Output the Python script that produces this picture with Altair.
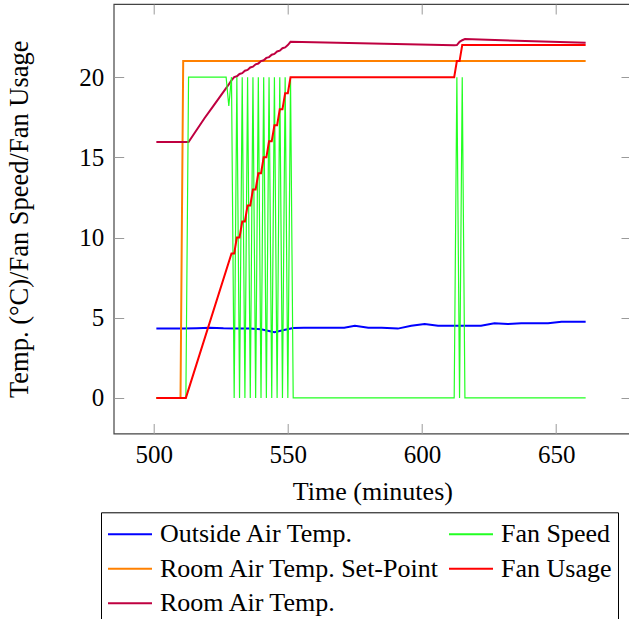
import altair as alt
import pandas as pd

FONT = "Liberation Serif"

# ---- data ----
# Outside Air Temp.
out_t = [501, 506, 511, 516, 521, 526, 531, 536, 540, 545, 549, 552, 556, 561, 566, 571,
         575, 580, 585, 591, 596, 601, 606, 611, 616, 622, 627, 632, 637, 642, 647, 652, 656, 661]
out_v = [4.32, 4.32, 4.33, 4.35, 4.38, 4.34, 4.32, 4.33, 4.28, 4.09, 4.25, 4.36, 4.37, 4.37, 4.37, 4.38,
         4.50, 4.38, 4.38, 4.32, 4.50, 4.61, 4.50, 4.50, 4.50, 4.50, 4.65, 4.60, 4.66, 4.66, 4.66, 4.75, 4.75, 4.75]

# Room Air Temp. Set-Point
sp_t = [501, 510, 511, 661]
sp_v = [0, 0, 21, 21]

# Room Air Temp.
rt_t = [501, 513, 516, 519, 522, 525, 528, 529,
        530, 531, 532, 533, 534, 535, 536, 537, 538, 539, 540, 541, 542, 543, 544, 545,
        546, 547, 548, 549, 550, 551, 612, 613, 614, 615, 616, 661]
rt_v = [15.95, 15.95, 16.7, 17.45, 18.15, 18.85, 19.55, 19.8,
        20.00, 20.05, 20.20, 20.25, 20.40, 20.45, 20.60, 20.65, 20.80, 20.85, 21.00, 21.05, 21.20, 21.25,
        21.40, 21.45, 21.60, 21.65, 21.80, 21.85, 22.00, 22.20, 21.99, 22.00, 22.20, 22.30, 22.37, 22.14]

# Fan Speed
fs_t = [501, 512, 513, 527, 528, 529,
        530, 531, 532, 533, 534, 535, 536, 537, 538, 539, 540, 541, 542, 543, 544, 545,
        546, 547, 548, 549, 550, 551, 552, 612, 613, 614, 615, 616, 661]
fs_v = [0, 0, 20, 20, 18.2, 20,
        0, 20, 0, 20, 0, 20, 0, 20, 0, 20, 0, 20, 0, 20, 0, 20,
        0, 20, 0, 20, 0, 20, 0, 0, 20, 0, 20, 0, 0]

# Fan Usage
fu_t = [501, 512, 529, 530, 531, 532, 533, 534, 535, 536, 537, 538, 539, 540, 541, 542,
        543, 544, 545, 546, 547, 548, 549, 550, 551, 612, 613, 614, 615, 661]
fu_v = [0, 0, 9, 9, 10, 10, 11, 11, 12, 12, 13, 13, 14, 14, 15, 15,
        16, 16, 17, 17, 18, 18, 19, 19, 20, 20, 21, 21, 22, 22]

x_ticks = [500, 550, 600, 650]
y_ticks = [0, 5, 10, 15, 20]

legend_order = ["Outside Air Temp.", "Room Air Temp. Set-Point", "Room Air Temp.", "Fan Speed", "Fan Usage"]
legend_colors = ["#0000ff", "#ff8000", "#bf0040", "#22ff22", "#ff0000"]

series = [
    ("Outside Air Temp.", out_t, out_v, 2.0),
    ("Room Air Temp. Set-Point", sp_t, sp_v, 2.0),
    ("Room Air Temp.", rt_t, rt_v, 2.0),
    ("Fan Speed", fs_t, fs_v, 1.2),
    ("Fan Usage", fu_t, fu_v, 2.0),
]

xscale = alt.Scale(domain=[485.1, 677.9], nice=False, zero=False)
yscale = alt.Scale(domain=[-2.22, 24.56], nice=False, zero=False)
cscale = alt.Scale(domain=legend_order, range=legend_colors)

legend = alt.Legend(
    title=None, orient="none", legendX=-12.7, legendY=508.3, columns=2, gridAlign="all",
    symbolType="stroke", symbolSize=1936, symbolStrokeWidth=2, clipHeight=32,
    labelFont=FONT, labelFontSize=26, labelColor="black", labelLimit=0,
    labelOffset=7, columnPadding=8, rowPadding=2.5, padding=6,
    strokeColor="black", fillColor="white",
)

tick_color = "#9a9a9a"

x_main = alt.Axis(orient="bottom", values=x_ticks, offset=-10, tickSize=10, tickColor=tick_color,
                  domain=False, grid=False, labelFlush=False, labelFont=FONT, labelFontSize=25,
                  labelColor="black", labelPadding=8.5, title="Time (minutes)", titleFont=FONT,
                  titleFontSize=26, titleFontWeight="normal", titleColor="black", titlePadding=11)
y_main = alt.Axis(orient="left", values=y_ticks, offset=-10, tickSize=10, tickColor=tick_color,
                  domain=False, grid=False, labelFlush=False, labelFont=FONT, labelFontSize=25,
                  labelColor="black", labelPadding=10, title="Temp. (°C)/Fan Speed/Fan Usage",
                  titleFont=FONT, titleFontSize=26.5, titleFontWeight="normal", titleColor="black",
                  titlePadding=45)
x_top = alt.Axis(orient="top", values=x_ticks, offset=-10, tickSize=10, tickColor=tick_color,
                 domain=False, grid=False, labels=False, title=None)
y_right = alt.Axis(orient="right", values=y_ticks, offset=-10, tickSize=10, tickColor=tick_color,
                   domain=False, grid=False, labels=False, title=None)

layers = []
for i, (name, ts, vs, sw) in enumerate(series):
    df = pd.DataFrame({"t": ts, "v": vs, "series": name})
    if i == 0:
        xa, ya = x_main, y_main
    elif i == 1:
        xa, ya = x_top, y_right
    else:
        xa, ya = None, None
    layers.append(
        alt.Chart(df).mark_line(strokeWidth=sw, clip=True).encode(
            x=alt.X("t:Q", scale=xscale, axis=xa),
            y=alt.Y("v:Q", scale=yscale, axis=ya),
            color=alt.Color("series:N", scale=cscale, legend=legend),
        )
    )

chart = alt.layer(*layers).resolve_axis(x="independent", y="independent").properties(
    width=517.3, height=429.5,
    autosize=alt.AutoSizeParams(type="none"),
    padding={"left": 113.7, "top": 4, "right": -2, "bottom": 185.5},
    background="white",
).configure_view(stroke="#444444", strokeWidth=1.2)

chart.save("out.html", embed_options={"renderer": "svg", "actions": False})
